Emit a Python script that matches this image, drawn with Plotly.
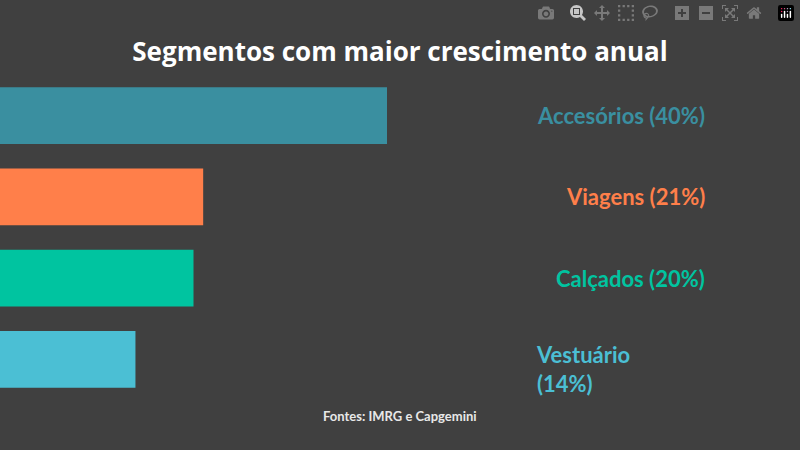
import plotly.graph_objects as go

categories = ["Accesórios", "Viagens", "Calçados", "Vestuário"]
values = [40, 21, 20, 14]
labels = ["Accesórios (40%)", "Viagens (21%)", "Calçados (20%)", "Vestuário<br>(14%)"]
colors = ["#3a8fa0", "#ff7f4a", "#00c4a0", "#4bbfd4"]

fig = go.Figure(go.Bar(x=values, y=categories, orientation="h", marker_color=colors,
                       marker_line_width=0, width=0.7, hoverinfo="skip"))
for c, l, col in zip(categories, labels, colors):
    multi = "<br>" in l
    fig.add_annotation(x=0.668 if multi else 0.884, xref="paper", y=c, yref="y", text=l,
                       showarrow=False, xanchor="left" if multi else "right",
                       align="left", yshift=-10 if multi else 0,
                       font=dict(family="Lato", size=22, color=col, weight="bold"))
fig.add_annotation(x=0.5, xref="paper", y=-0.08, yref="paper", text="Fontes: IMRG e Capgemini",
                   showarrow=False, font=dict(family="Lato", size=13, color="#e8e8e8", weight="bold"))
fig.update_layout(
    width=800, height=450, paper_bgcolor="#404040", plot_bgcolor="#404040",
    margin=dict(l=0, r=0, t=75, b=50), showlegend=False,
    title=dict(text="<b>Segmentos com maior crescimento anual</b>", x=0.5, y=0.905, xanchor="center",
               font=dict(family="Open Sans", size=26, color="white")),
    xaxis=dict(range=[0, 40 * 800 / 387], visible=False),
    yaxis=dict(autorange="reversed", visible=False),
)
fig.write_html("out.html", post_script="document.body.style.margin='0';document.body.style.background='#404040';")
